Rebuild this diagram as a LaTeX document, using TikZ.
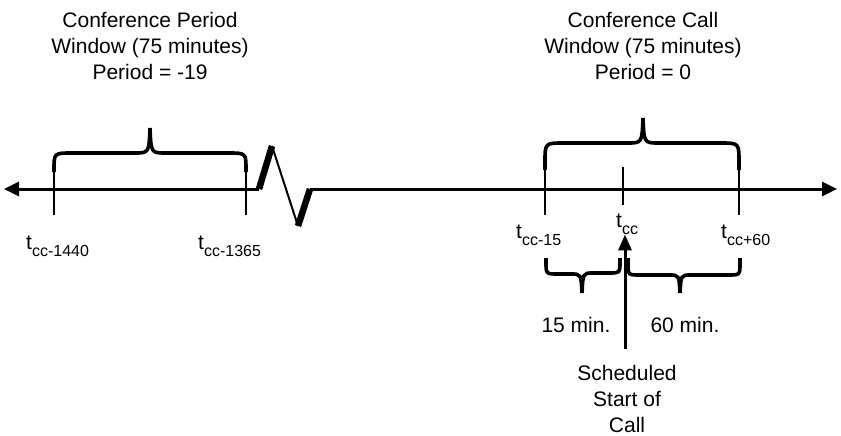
\documentclass[tikz,border=0pt]{standalone}
\usepackage{fontspec}
\setmainfont{Liberation Sans}
\usetikzlibrary{arrows.meta}
\newcommand\tsub[1]{t\raisebox{-0.32em}{\fontsize{16}{16}\selectfont #1}}
\tikzset{
  axisline/.style={line width=3pt},
  tickline/.style={line width=2pt},
  bracestyle/.style={line width=3.6pt, line cap=butt},
  zigthick/.style={line width=6.5pt},
  zigthin/.style={line width=2pt},
  lbl/.style={font=\fontsize{21}{26}\selectfont, align=center, inner sep=0pt},
  tlbl/.style={font=\fontsize{21}{26}\selectfont, inner sep=0pt},
  tip/.style={-{Triangle[length=15pt,width=14pt]}},
}
\begin{document}
\begin{tikzpicture}[x=1pt,y=-1pt]
\useasboundingbox (0,0) rectangle (841,436);
% axis
\coordinate (leftend) at (4,189);
\coordinate (breakL) at (259,189);
\coordinate (zigA) at (272,146);
\coordinate (zigB) at (298,226);
\coordinate (breakR) at (310,189);
\coordinate (rightend) at (837,189);
\draw[axisline,tip] (breakL) -- (leftend);
\draw[axisline,tip] (breakR) -- (rightend);
\draw[zigthick] (breakL) -- (zigA);
\draw[zigthin] (zigA) -- (zigB);
\draw[zigthick] (zigB) -- (breakR);
% ticks
\draw[tickline] (54,168) -- (54,215);
\draw[tickline] (246,168) -- (246,215);
\draw[tickline] (545,166) -- (545,215);
\draw[tickline] (623,167) -- (623,205);
\draw[tickline] (739,166) -- (739,215);
% upper braces
\draw[bracestyle] (54,172) -- (54,170) .. controls (54,153) .. (72,153) -- (134,153) .. controls (149,153) .. (150,128)
   .. controls (151,153) .. (166,153) -- (228,153) .. controls (246,153) .. (246,170) -- (246,172);
\draw[bracestyle] (545,170) -- (545,162) .. controls (545,143) .. (564,143) -- (627,143) .. controls (642,143) .. (643,118)
   .. controls (644,143) .. (659,143) -- (720,143) .. controls (739,143) .. (739,162) -- (739,170);
% lower braces
\draw[bracestyle] (546,258) -- (546,262) .. controls (546,274) .. (558,274) -- (571,274) .. controls (581,274) .. (582,293)
   .. controls (583,273) .. (593,273) -- (609,273) .. controls (620,273) .. (620,262) -- (620,258);
\draw[bracestyle] (628,258) -- (628,263) .. controls (628,275) .. (640,275) -- (669,275) .. controls (679,275) .. (680,293)
   .. controls (681,275) .. (691,275) -- (728,275) .. controls (740,275) .. (740,263) -- (740,258);
% top labels
\node[lbl] (lefttitle) at (150,46) {Conference Period\\Window (75 minutes)\\Period = -19};
\node[lbl] (righttitle) at (643,46) {Conference Call\\Window (75 minutes)\\Period = 0};
% tick labels
\node[tlbl,anchor=west] (t1440) at (26,246) {\tsub{cc-1440}};
\node[tlbl,anchor=west] (t1365) at (198,246) {\tsub{cc-1365}};
\node[tlbl,anchor=west] (t15) at (516,235) {\tsub{cc-15}};
\node[tlbl,anchor=west] (tcc) at (616,224) {\tsub{cc}};
\node[tlbl,anchor=west] (t60) at (721,235) {\tsub{cc+60}};
% duration labels
\node[lbl] (m15) at (576,325) {15 min.};
\node[lbl] (m60) at (685,325) {60 min.};
\node[lbl] (sched) at (627,399) {Scheduled\\Start of\\Call};
\coordinate (arrowbase) at (625,349);
\draw[line width=3pt,-{Triangle[length=16pt,width=13pt]}] (arrowbase) -- (arrowbase |- tcc.south);
\end{tikzpicture}
\end{document}
